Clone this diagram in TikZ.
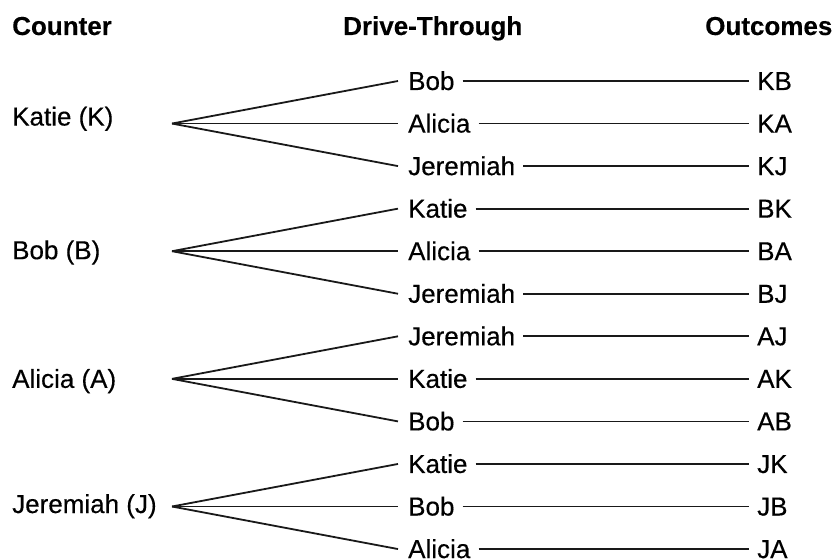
\documentclass[tikz,border=0pt]{standalone}
\usepackage{fontspec}
\setmainfont{Liberation Sans}[FakeBold=0.35]
\newfontfamily\hdrfont{Liberation Sans Bold}[FakeBold=0.2]
\begin{document}
\begin{tikzpicture}[x=1pt,y=-1pt,
  every node/.style={font=\fontsize{26}{30}\selectfont, text=black},
  hdr/.style={anchor=base west, inner sep=0pt, font=\fontsize{26}{30}\selectfont\hdrfont},
  cnt/.style={anchor=west, inner sep=0pt, text height=18pt, text depth=0pt},
  mid/.style={anchor=west, inner xsep=8pt, inner ysep=0pt, text height=18pt, text depth=0pt},
  outc/.style={anchor=west, inner xsep=8pt, inner ysep=0pt, text height=18pt, text depth=0pt},
  ln/.style={line width=1.8pt, black!90}]
\useasboundingbox (0,0) rectangle (834,559);
\node[hdr] (h1) at (12,35) {Counter};
\node[hdr] (h2) at (343,35) {Drive-Through};
\node[hdr] (h3) at (705,35) {Outcomes};
\foreach \g/\lab/\off/\a/\b/\c/\p/\q/\r in {
  1/{Katie (K)}/-7/Bob/Alicia/Jeremiah/KB/KA/KJ,
  2/{Bob (B)}/-1/Katie/Alicia/Jeremiah/BK/BA/BJ,
  3/{Alicia (A)}/0/Jeremiah/Katie/Bob/AJ/AK/AB,
  4/{Jeremiah (J)}/-2.5/Katie/Bob/Alicia/JK/JB/JA}{
  \pgfmathsetmacro\ym{81+42.55*(3*\g-2)}
  \node[cnt] (c\g) at (12,\ym+\off) {\lab};
  \coordinate (o\g) at (172,\ym);
  \node[mid] (m\g-1) at (400,\ym-42.55) {\a};
  \node[mid] (m\g-2) at (400,\ym) {\b};
  \node[mid] (m\g-3) at (400,\ym+42.55) {\c};
  \node[outc] (r\g-1) at (749,\ym-42.55) {\p};
  \node[outc] (r\g-2) at (749,\ym) {\q};
  \node[outc] (r\g-3) at (749,\ym+42.55) {\r};
  \draw[ln] (o\g) -- ([xshift=-2pt]m\g-1.west);
  \draw[ln] (o\g) -- ([xshift=-2pt]m\g-2.west);
  \draw[ln] (o\g) -- ([xshift=-2pt]m\g-3.west);
  \draw[ln] (m\g-1.east) -- (r\g-1.west);
  \draw[ln] (m\g-2.east) -- (r\g-2.west);
  \draw[ln] (m\g-3.east) -- (r\g-3.west);
}
\end{tikzpicture}
\end{document}
